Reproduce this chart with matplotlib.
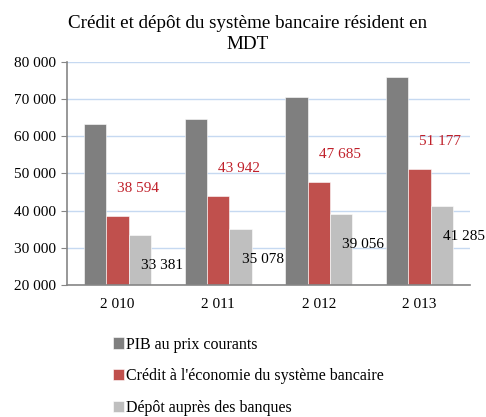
import matplotlib
matplotlib.use('Agg')
import matplotlib.pyplot as plt
import numpy as np

years = ['2 010', '2 011', '2 012', '2 013']
pib = [63400, 64700, 70450, 76000]
credit = [38594, 43942, 47685, 51177]
depot = [33381, 35078, 39056, 41285]
series_names = ['PIB au prix courants',
                "Crédit à l'économie du système bancaire",
                'Dépôt auprès des banques']

def fmt(v):
    return f'{v:,}'.replace(',', ' ')

plt.rcParams['font.family'] = ['Liberation Serif', 'DejaVu Serif']
plt.rcParams['font.size'] = 11

fig = plt.figure(figsize=(4.86, 4.17), dpi=100)
ax = fig.add_axes([0.138, 0.316, 0.829, 0.536])

x = np.arange(len(years))
w = 0.222
colors = ['#7f7f7f', '#c0504d', '#bfbfbf']
for i, (vals, c, name) in enumerate(zip([pib, credit, depot], colors, series_names)):
    ax.bar(x + (i - 1) * w, vals, w, color=c, edgecolor='white', linewidth=0.4,
           label=name, zorder=2)

for xi, v in zip(x, credit):
    ax.annotate(fmt(v), (xi, v), xytext=(15, 20), textcoords='offset points',
                ha='center', va='center', color='#c0202a', fontsize=11)
for xi, v in zip(x + w, depot):
    ax.annotate(fmt(v), (xi, v), xytext=(16, -22), textcoords='offset points',
                ha='center', va='center', color='black', fontsize=11)

ax.set_xlim(-0.5, len(years) - 0.5)
ax.set_ylim(20000, 80000)
ax.set_yticks(range(20000, 80001, 10000))
ax.set_yticklabels([fmt(t) for t in range(20000, 80001, 10000)])
ax.set_xticks(x)
ax.set_xticklabels(years)
ax.tick_params(axis='x', length=0, pad=9)
ax.tick_params(axis='y', length=4, color='#868686', pad=4)
ax.yaxis.grid(True, color='#c6d9f1', linewidth=1, zorder=0)
ax.set_axisbelow(True)
for s in ['top', 'right']:
    ax.spines[s].set_visible(False)
for s in ['left', 'bottom']:
    ax.spines[s].set_color('#868686')
    ax.spines[s].set_linewidth(1.2)

fig.text(0.51, 0.963, 'Crédit et dépôt du système bancaire résident en\nMDT',
         ha='center', va='top', fontsize=13.7, linespacing=1.3)

fig.legend(loc='upper left', bbox_to_anchor=(0.22, 0.208), frameon=False,
           handlelength=0.7, handleheight=0.7, handletextpad=0.1,
           labelspacing=0.98, fontsize=11.5, borderaxespad=0)

fig.savefig('out.png', dpi=100)
